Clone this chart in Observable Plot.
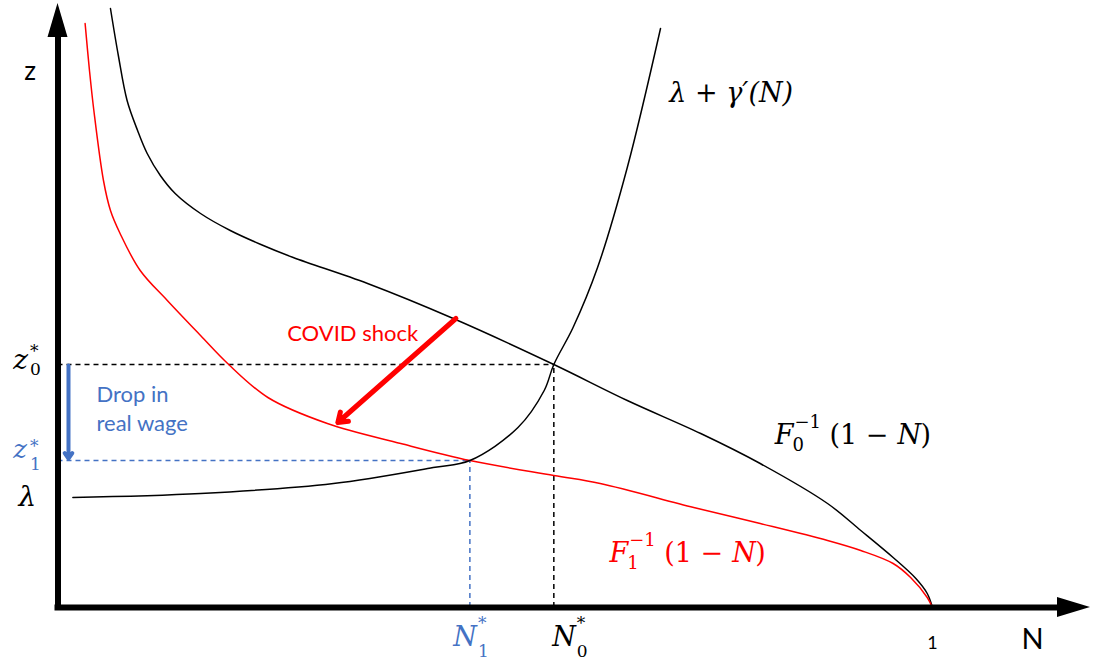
<!DOCTYPE html>
<html><head><meta charset="utf-8">
<script src="https://cdn.jsdelivr.net/npm/d3@7"></script>
<script src="https://cdn.jsdelivr.net/npm/@observablehq/plot@0.6"></script>
<style>body{margin:0;background:#fff}</style>
</head><body><div id="chart"></div>
<script>
// ---- data (N on x, z on y) ----
const f0N = [0.060, 0.069, 0.079, 0.091, 0.102, 0.117, 0.134, 0.163, 0.197, 0.232, 0.269, 0.354, 0.452, 0.567, 0.651, 0.735, 0.803, 0.880, 0.918, 0.955, 0.981, 0.994, 1.000];
const f0Z = [5.99, 5.52, 5.07, 4.77, 4.54, 4.32, 4.14, 3.94, 3.77, 3.63, 3.50, 3.24, 2.89, 2.43, 2.07, 1.74, 1.44, 1.04, 0.77, 0.50, 0.29, 0.14, 0.00];
const f1N = [0.031, 0.036, 0.041, 0.052, 0.060, 0.071, 0.094, 0.125, 0.163, 0.194, 0.240, 0.308, 0.392, 0.471, 0.567, 0.620, 0.727, 0.803, 0.880, 0.918, 0.955, 0.975, 0.994, 1.000];
const f1Z = [5.84, 5.37, 4.97, 4.27, 3.97, 3.74, 3.37, 3.07, 2.72, 2.44, 2.10, 1.84, 1.64, 1.47, 1.32, 1.24, 1.00, 0.84, 0.67, 0.57, 0.44, 0.30, 0.10, 0.00];
const gN = [0.017, 0.163, 0.315, 0.429, 0.471, 0.526, 0.556, 0.567, 0.589, 0.617, 0.651, 0.689];
const gZ = [1.10, 1.14, 1.24, 1.40, 1.47, 1.80, 2.17, 2.43, 2.80, 3.40, 4.40, 5.79];
const zStar0 = 2.43, zStar1 = 1.47, lambda = 1.10, nStar0 = 0.567, nStar1 = 0.471;
const covidArrow = {n1: 0.455, z1: 2.89, n2: 0.320, z2: 1.85};
const dropArrow = {n: 0.012, z1: 2.42, z2: 1.49};
const xMax = 1.1807, zMax = 6.04;
const tickN = [1];
const tickLabels = ["1"];
const texts = {
  z: "z", N: "N", covid: "COVID shock", drop1: "Drop in", drop2: "real wage",
  gamma: "λ + γ′(N)", F: "F", inv: "−1", open: "(1 − ", nItal: "N", close: ")", lam: "λ", star: "*"
};

const RED = "#ff0000", BLUE = "#4472c4";
const SERIF = "DejaVu Serif", SANS = "Lato";

const pts = (N, Z) => N.map((n, i) => ({N: n, z: Z[i]}));

function piece(x, y, text, o = {}) {
  return Plot.text([0], {
    x: () => x, y: () => y, text: () => text,
    textAnchor: o.anchor ?? "start", lineAnchor: "bottom",
    dx: o.dx ?? 0, dy: o.dy ?? 0,
    fontSize: o.size ?? 27, fontStyle: o.italic ? "italic" : "normal",
    fontFamily: o.family ?? SERIF, fill: o.color ?? "black"
  });
}

// F^{-1}_k(1 − N) built from pieces around a junction point
function fLabel(x, y, sub, color) {
  return [
    piece(x, y, texts.F, {anchor: "end", italic: true, color}),
    piece(x, y, texts.inv, {dx: 1, dy: -16, size: 18, color}),
    piece(x, y, sub, {dx: -1, dy: 7, size: 18, color}),
    piece(x, y, texts.open, {dx: 36, color}),
    piece(x, y, texts.nItal, {dx: 104, italic: true, color}),
    piece(x, y, texts.close, {dx: 127, color})
  ];
}

function arrowHeads(index, scales) {
  const x = scales.x, y = scales.y;
  const g = d3.create("svg:g").attr("fill", "black");
  const x0 = x(0), y0 = y(0), xt = x(xMax), yt = y(zMax);
  g.append("path").attr("d", `M${x0},${yt}L${x0 - 10},${yt + 34}L${x0 + 10},${yt + 34}Z`);
  g.append("path").attr("d", `M${xt},${y0}L${xt - 33},${y0 - 10}L${xt - 33},${y0 + 10}Z`);
  return g.node();
}

const marks = [
  // dashed guides
  Plot.ruleY([zStar0], {x1: 0, x2: nStar0, stroke: "black", strokeWidth: 1.5, strokeDasharray: "5,4"}),
  Plot.ruleX([nStar0], {y1: 0, y2: zStar0, stroke: "black", strokeWidth: 1.5, strokeDasharray: "5,4"}),
  Plot.ruleY([zStar1], {x1: 0, x2: nStar1, stroke: BLUE, strokeWidth: 1.5, strokeDasharray: "5,4"}),
  Plot.ruleX([nStar1], {y1: 0, y2: zStar1, stroke: BLUE, strokeWidth: 1.5, strokeDasharray: "5,4"}),
  // curves
  Plot.line(pts(f0N, f0Z), {x: "N", y: "z", stroke: "black", strokeWidth: 1.5, curve: "catmull-rom"}),
  Plot.line(pts(f1N, f1Z), {x: "N", y: "z", stroke: RED, strokeWidth: 1.5, curve: "catmull-rom"}),
  Plot.line(pts(gN, gZ), {x: "N", y: "z", stroke: "black", strokeWidth: 1.5, curve: "catmull-rom"}),
  // arrows
  Plot.arrow([covidArrow], {x1: "n1", y1: "z1", x2: "n2", y2: "z2", stroke: RED, strokeWidth: 5, headLength: 3.2, headAngle: 70}),
  Plot.arrow([dropArrow], {x1: "n", y1: "z1", x2: "n", y2: "z2", stroke: BLUE, strokeWidth: 4, headLength: 2.5, headAngle: 70}),
  // axes
  Plot.ruleY([0], {x1: 0, x2: xMax - 0.03, stroke: "black", strokeWidth: 6, strokeLinecap: "square"}),
  Plot.ruleX([0], {y1: 0, y2: zMax - 0.3, stroke: "black", strokeWidth: 6, strokeLinecap: "square"}),
  arrowHeads,
  // axis labels
  Plot.text(tickN, {x: d => d, y: () => 0, text: (d, i) => tickLabels[i], dy: 41, lineAnchor: "bottom", fontSize: 18, fontFamily: SANS, fill: "black"}),
  piece(xMax, 0, texts.N, {anchor: "middle", dx: -58, dy: 41, size: 29, family: SANS}),
  piece(0, zMax, texts.z, {anchor: "middle", dx: -28, dy: 76, size: 26, family: SANS}),
  // annotations
  piece(0.337, 2.67, texts.covid, {anchor: "middle", size: 22, family: SANS, color: RED}),
  piece(0.044, 2.06, texts.drop1, {size: 22, family: SANS, color: BLUE}),
  piece(0.044, 1.77, texts.drop2, {size: 22, family: SANS, color: BLUE}),
  // lambda + gamma'(N)
  piece(0.699, 5.06, texts.gamma, {italic: true, size: 27}),
  // F labels
  ...fLabel(0.841, 1.64, "0", "black"),
  ...fLabel(0.652, 0.46, "1", RED),
  // z0*, z1*, lambda
  piece(0, zStar0, texts.z, {anchor: "end", dx: -30, dy: 4, italic: true, size: 28}),
  piece(0, zStar0, "0", {dx: -28, dy: 10, size: 17}),
  piece(0, zStar0, texts.star, {dx: -28, dy: -8, size: 17}),
  piece(0, zStar1, texts.z, {anchor: "end", dx: -31, dy: -3, italic: true, size: 26, color: BLUE}),
  piece(0, zStar1, "1", {dx: -28, dy: 9, size: 17, color: BLUE}),
  piece(0, zStar1, texts.star, {dx: -28, dy: -9, size: 17, color: BLUE}),
  piece(0, lambda, texts.lam, {dx: -39.5, dy: 8, italic: true, size: 28}),
  // N1*, N0*
  piece(nStar1, 0, texts.N, {anchor: "end", dx: 7, dy: 38, italic: true, color: BLUE}),
  piece(nStar1, 0, "1", {dx: 8, dy: 49, size: 17, color: BLUE}),
  piece(nStar1, 0, texts.star, {dx: 8, dy: 21, size: 17, color: BLUE}),
  piece(nStar0, 0, texts.N, {anchor: "end", dx: 22, dy: 38, italic: true}),
  piece(nStar0, 0, "0", {dx: 23, dy: 49, size: 17}),
  piece(nStar0, 0, texts.star, {dx: 23, dy: 21, size: 17})
];

const chart = Plot.plot({
  width: 1100, height: 662,
  marginLeft: 57.5, marginRight: 10, marginTop: 3, marginBottom: 55,
  x: {domain: [0, xMax], axis: null},
  y: {domain: [0, zMax], axis: null},
  style: {background: "white", overflow: "visible"},
  marks
});
document.getElementById("chart").appendChild(chart);
</script>
</body></html>
